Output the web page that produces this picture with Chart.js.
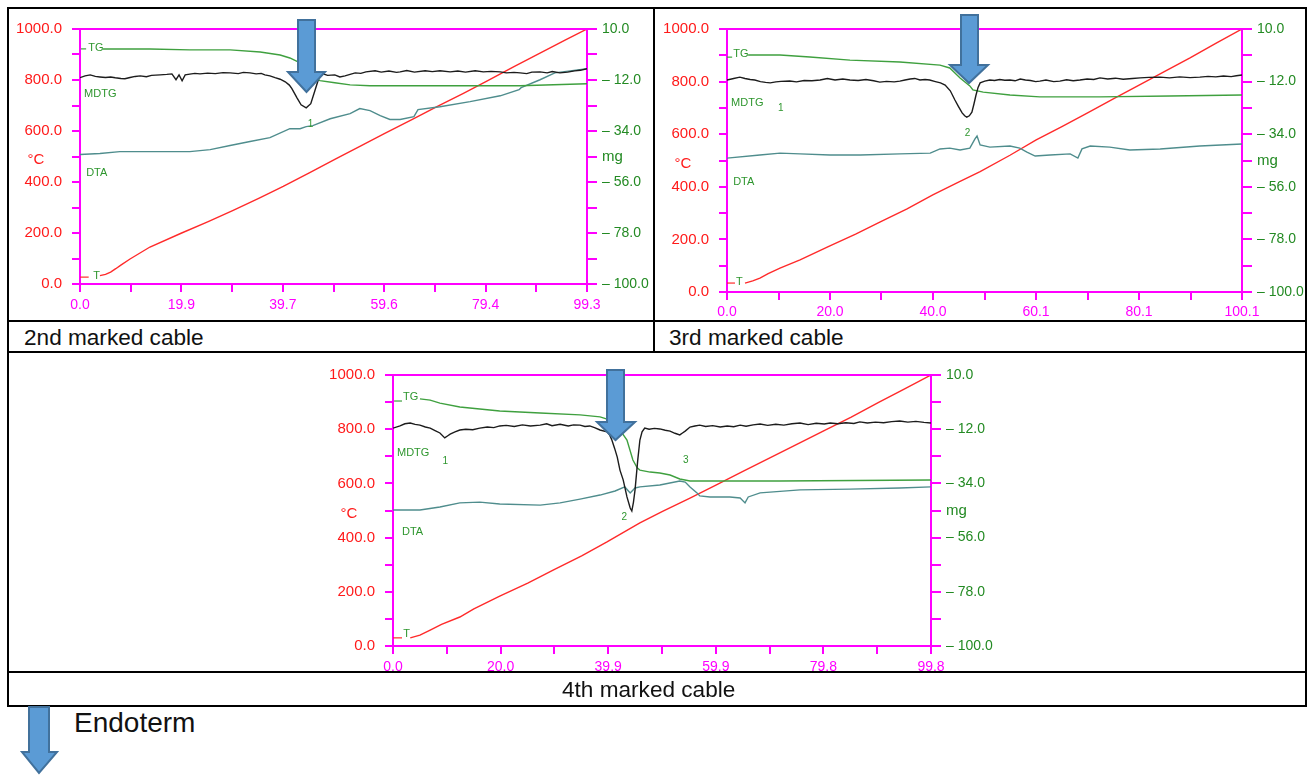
<!DOCTYPE html>
<html>
<head>
<meta charset="utf-8">
<script src="https://cdn.jsdelivr.net/npm/chart.js@4.4.1/dist/chart.umd.min.js"></script>
<style>
  html, body { margin: 0; padding: 0; background: #fff; }
  #page { position: relative; width: 1310px; height: 775px; overflow: hidden;
          font-family: 'Liberation Sans', Arial, Helvetica, sans-serif; }
  canvas { position: absolute; z-index: 1; }
  .rule { position: absolute; background: #000; z-index: 2; }
  .cap { position: absolute; font-size: 22.6px; line-height: 22px; color: #111; white-space: nowrap; z-index: 2; }
  svg { position: absolute; left: 0; top: 0; z-index: 3; }
</style>
</head>
<body>
<div id="page">
  <canvas id="cable2" width="642" height="310" style="left:10px;top:10px"></canvas>
  <canvas id="cable3" width="650" height="310" style="left:655px;top:10px"></canvas>
  <canvas id="cable4" width="720" height="326" style="left:300px;top:354px"></canvas>

  <!-- table rules -->
  <div class="rule" style="left:7px;top:7px;width:1300px;height:2px"></div>
  <div class="rule" style="left:7px;top:7px;width:2px;height:700px"></div>
  <div class="rule" style="left:1305px;top:7px;width:2px;height:700px"></div>
  <div class="rule" style="left:7px;top:705px;width:1300px;height:2px"></div>
  <div class="rule" style="left:653px;top:7px;width:2px;height:346px"></div>
  <div class="rule" style="left:7px;top:320px;width:1300px;height:2px"></div>
  <div class="rule" style="left:7px;top:351px;width:1300px;height:2px"></div>
  <div class="rule" style="left:7px;top:671px;width:1300px;height:2px"></div>

  <div class="cap" style="left:24px;top:327px">2nd marked cable</div>
  <div class="cap" style="left:669px;top:327px">3rd marked cable</div>
  <div class="cap" style="left:562px;top:679px">4th marked cable</div>
  <div class="cap" style="left:74px;top:709px;font-size:28px;line-height:28px">Endoterm</div>

  <svg width="1310" height="775">
    <g fill="#5b9bd5" stroke="#41719c" stroke-width="2" stroke-linejoin="miter">
      <path d="M298,20 L315,20 L315,72 L325,72 L306.5,92 L288,72 L298,72 Z"/>
      <path d="M961,15 L978,15 L978,65 L988,65 L969,83 L950,65 L961,65 Z"/>
      <path d="M607,370 L624,370 L624,422 L635,422 L615.5,440 L597,422 L607,422 Z"/>
      <path d="M29,707 L49,707 L49,752 L57,752 L39,773 L22,752 L29,752 Z"/>
    </g>
  </svg>
</div>

<script>
// ---------- shared tick labels ----------
const tempMin = 0, tempMax = 1000;
const massTicks = [-100, -89, -78, -67, -56, -45, -34, -23, -12, -1, 10];
const massTickLabels = ['\u2013 100.0', '', '\u2013 78.0', '', '\u2013 56.0', 'mg', '\u2013 34.0', '', '\u2013 12.0', '', '10.0'];

// ---------- 2nd marked cable ----------
const cable2TimeMax = 99.3;
const cable2TimeLabels = ['0.0', '19.9', '39.7', '59.6', '79.4', '99.3'];
const cable2TempTime = [3.9, 5, 6, 7, 8, 9.8, 13.7, 19.8, 25, 30, 35, 39.8, 45, 50, 55, 59.6, 65, 70, 75, 79.4, 85, 90, 95, 99.3];
const cable2Temp     = [33, 38, 47, 60, 74, 98, 145, 199, 244, 289, 336, 383, 437, 490, 542, 590, 645, 697, 747, 793, 852, 904, 956, 1000];
const cable2TgTime = [4.5, 13.7, 21.5, 29.4, 35.3, 39.2, 41.1, 42.7, 44.1, 45.4, 47.0, 49.9, 52.9, 56.8, 72.5, 86.2, 99.3];
const cable2Tg     = [1.4, 1.4, 1.0, 1.0, 0.1, -1.2, -2.5, -4.2, -6.8, -10.2, -12.3, -13.2, -14.1, -14.5, -14.5, -14.5, -13.6];
const cable2MdtgTime = [0, 1, 2, 3, 3.9, 5, 6, 6.9, 8, 8.8, 9.8, 10.8, 11.8, 13, 14, 15.7, 17, 18, 18.8, 19.4, 20, 20.6, 21.5, 22.5, 23.5, 25, 26.5, 28, 29.4, 31, 32, 33.3, 34.5, 35.5, 36.2, 37.2, 38.2, 39.2, 40.2, 41, 41.5, 42.5, 43.3, 44.3, 45.2, 46, 46.8, 47.6, 48.5, 49.9, 50.9, 51.9, 52.9, 53.9, 55, 56, 57.8, 59, 60.5, 62, 62.7, 64, 65.5, 67.6, 69, 70.5, 72.5, 74, 75.5, 77.4, 79, 80.5, 82.3, 83.5, 85, 86.2, 87.5, 88.5, 90.1, 91.5, 92.5, 94, 95.5, 96.9, 98, 99.3];
const cable2Mdtg     = [809, 816, 820, 814, 812, 810, 812, 809, 806, 805, 810, 814, 816, 813, 818, 820, 822, 824, 801, 820, 797, 820, 823, 826, 824, 827, 825, 829, 828, 825, 830, 828, 824, 826, 820, 816, 809, 803, 793, 780, 766, 730, 703, 691, 707, 758, 809, 824, 818, 820, 812, 816, 822, 828, 826, 832, 836, 831, 835, 830, 832, 837, 831, 836, 833, 836, 832, 835, 831, 836, 832, 834, 832, 828, 830, 828, 825, 831, 832, 828, 833, 828, 831, 836, 838, 844];
const cable2DtaTime = [0, 3.9, 7.8, 15.7, 21.5, 25.5, 29.4, 33.3, 37.2, 41.1, 43.1, 44.3, 45.6, 49.0, 52.9, 54.8, 56.8, 58.8, 60.7, 62.7, 65.4, 66.2, 70.5, 76.4, 82.3, 86.0, 86.4, 90.1, 93.0, 96.0, 99.3];
const cable2Dta     = [508, 512, 519, 519, 519, 527, 543, 559, 574, 609, 609, 617, 621, 648, 668, 688, 680, 660, 645, 645, 656, 684, 695, 715, 738, 762, 770, 801, 828, 836, 844];

// ---------- 3rd marked cable ----------
const cable3TimeMax = 100.1;
const cable3TimeLabels = ['0.0', '20.0', '40.0', '60.1', '80.1', '100.1'];
const cable3TempTime = [3.5, 5, 6.4, 8, 10.3, 14.2, 20, 25, 29.7, 35, 40, 45, 49.2, 55, 60.1, 65, 70, 75, 80.1, 85, 90, 95, 100.1];
const cable3Temp     = [34, 42, 53, 70, 91, 122, 175, 220, 266, 316, 369, 418, 458, 520, 578, 628, 680, 733, 787, 838, 890, 945, 1000];
const cable3TgTime = [4.1, 10.3, 16.1, 23.9, 33.6, 41.4, 43.3, 45.3, 47.2, 47.8, 49.8, 55.0, 60.8, 72.5, 86.1, 100.1];
const cable3Tg     = [-0.9, -0.9, -1.7, -3.0, -3.8, -5.1, -6.3, -10.5, -13.8, -15.5, -16.4, -17.6, -18.4, -18.4, -18.0, -17.6];
const cable3MdtgTime = [0, 1.3, 2.5, 3.5, 4.5, 5.4, 6.5, 7.5, 8.4, 9.5, 10.5, 12.2, 13.5, 15, 16.5, 18.1, 19.5, 21, 22.5, 23.9, 25.5, 27, 28.5, 29.7, 31, 32.5, 33.6, 34.6, 35.6, 36.5, 37.5, 38.5, 39.4, 40.5, 41.5, 42.4, 43.4, 44.3, 45, 45.7, 46.2, 46.6, 47.1, 47.6, 48.0, 48.4, 48.8, 49.2, 50.1, 51.1, 52, 53, 54, 55, 56, 57, 58, 59, 60, 60.8, 62, 63.5, 64.7, 66, 67.3, 68.6, 70, 71.3, 72.5, 74, 75.5, 77, 78.8, 80.3, 82, 84.2, 86, 88, 90, 91.9, 93.5, 95, 96.5, 98, 99, 100.1];
const cable3Mdtg     = [806, 812, 817, 812, 808, 806, 800, 797, 795, 799, 801, 802, 799, 804, 803, 806, 812, 806, 810, 806, 804, 808, 803, 798, 801, 799, 802, 806, 810, 812, 806, 808, 806, 800, 795, 787, 765, 730, 705, 681, 670, 665, 670, 684, 715, 749, 778, 795, 802, 806, 804, 808, 805, 806, 803, 810, 806, 804, 800, 802, 806, 800, 802, 807, 803, 806, 810, 808, 814, 810, 813, 809, 812, 814, 816, 817, 814, 818, 815, 817, 820, 818, 821, 819, 822, 825];
const cable3DtaTime = [0, 6.4, 10.3, 14.2, 20.0, 25.9, 33.6, 39.5, 41.4, 43.3, 45.3, 47.2, 48.2, 48.6, 49.2, 51.1, 55.0, 56.9, 58.3, 59.9, 62.8, 66.7, 68.2, 69.0, 70.6, 74.4, 78.3, 84.2, 91.9, 100.1];
const cable3Dta     = [509, 521, 528, 525, 521, 521, 525, 528, 544, 547, 540, 547, 582, 593, 559, 551, 555, 547, 532, 517, 521, 525, 509, 544, 555, 551, 540, 544, 555, 563];

// ---------- 4th marked cable ----------
const cable4TimeMax = 99.8;
const cable4TimeLabels = ['0.0', '20.0', '39.9', '59.9', '79.8', '99.8'];
const cable4TempTime = [3.2, 5, 6.9, 9, 12.4, 15, 19.8, 25, 29.7, 35, 39.7, 45.8, 50, 55, 59.9, 65, 70, 75, 79.8, 85, 90, 95, 99.8];
const cable4Temp     = [30, 40, 59, 80, 107, 137, 184, 232, 280, 333, 384, 454, 497, 545, 594, 645, 695, 745, 793, 845, 898, 950, 1000];
const cable4TgTime = [5.0, 6.9, 8.7, 12.4, 16.1, 19.8, 27.3, 34.7, 38.4, 40.3, 42.1, 43.4, 44.5, 45.3, 45.8, 47.7, 49.5, 51.4, 53.2, 55.1, 58.8, 71.8, 99.8];
const cable4Tg     = [0.3, -0.2, -1.4, -3.0, -3.8, -4.6, -5.4, -6.2, -7.0, -8.3, -12.3, -16.4, -24.5, -27.7, -28.6, -29.4, -29.8, -30.6, -32.2, -33.0, -33.0, -33.0, -32.6];
const cable4MdtgTime = [0, 1.3, 2.2, 3.2, 4.1, 5.0, 6, 6.9, 7.8, 8.7, 9.6, 10.1, 10.6, 11.5, 12.4, 13.5, 14.8, 16.1, 17.5, 18.7, 19.8, 21, 22.5, 24, 25.5, 27.3, 28.5, 29.5, 31, 32.5, 33.5, 34.7, 35.6, 36.5, 37.5, 38.4, 39.7, 40.2, 40.6, 41.1, 41.6, 42.1, 42.7, 43.4, 44.0, 44.3, 44.6, 44.9, 45.4, 45.8, 46.2, 46.7, 47.5, 48.5, 49.5, 50.5, 51.4, 52.3, 53.2, 53.7, 54.2, 55.1, 56, 56.9, 58, 59.3, 60.7, 62, 63.2, 64.4, 65.5, 66.8, 68.1, 69.5, 71, 72.5, 74, 75.5, 77, 78.5, 80, 81.1, 82.5, 84, 85.5, 86.6, 88, 89.5, 91, 92.5, 94, 95.5, 97, 98.5, 99.8];
const cable4Mdtg     = [804, 812, 820, 823, 818, 815, 808, 804, 795, 786, 768, 775, 782, 790, 797, 800, 798, 804, 808, 806, 812, 814, 810, 816, 812, 815, 820, 813, 818, 812, 816, 815, 810, 812, 805, 797, 790, 778, 760, 730, 697, 649, 613, 550, 509, 498, 530, 576, 686, 760, 790, 804, 800, 803, 801, 796, 793, 785, 779, 786, 793, 808, 812, 815, 810, 813, 808, 812, 809, 815, 811, 816, 819, 814, 818, 815, 820, 823, 817, 822, 819, 823, 820, 824, 821, 827, 823, 826, 824, 828, 830, 826, 829, 825, 823];
const cable4DtaTime = [0, 5.0, 8.7, 12.4, 16.1, 19.8, 27.3, 31.0, 34.7, 38.4, 41.2, 43.0, 44.0, 44.9, 45.8, 49.5, 53.2, 54.2, 55.1, 56.4, 56.9, 58.8, 62.5, 64.4, 65.3, 65.9, 68.1, 75.5, 84.8, 94.0, 99.8];
const cable4Dta     = [502, 502, 513, 528, 531, 524, 520, 528, 542, 557, 572, 587, 565, 583, 587, 594, 609, 605, 587, 565, 554, 550, 550, 546, 528, 550, 565, 576, 579, 583, 587];

// ---------- styling ----------
const FONT = "'Liberation Sans', Arial, Helvetica, sans-serif";
const MAGENTA = '#ff00ff';
const AXIS_RED = '#ff1a1a';
const AXIS_GREEN = '#238a23';
const NOTE_GREEN = '#2e962e';
const TG_COLOR = '#3fa03f';
const MDTG_COLOR = '#1c1c1c';
const DTA_COLOR = '#4f8d8d';
const T_COLOR = '#ff2a2a';

Chart.defaults.font.family = FONT;

const pts = (xs, ys) => xs.map((x, i) => ({ x, y: ys[i] }));

// draws the frame top edge, the °C unit and the in-plot curve names
const annotate = {
  id: 'annotate',
  afterDraw(chart, args, o) {
    const { ctx, chartArea: a, scales } = chart;
    const sx = scales.x, sy = scales.y;
    ctx.save();
    ctx.strokeStyle = MAGENTA;
    ctx.lineWidth = 2;
    ctx.beginPath();
    ctx.moveTo(a.left, a.top);
    ctx.lineTo(a.right, a.top);
    ctx.stroke();

    ctx.fillStyle = AXIS_RED;
    ctx.font = '15px ' + FONT;
    ctx.textAlign = 'center';
    ctx.textBaseline = 'middle';
    ctx.fillText('\u00B0C', a.left - 44, sy.getPixelForValue(500) + 3);

    ctx.textAlign = 'left';
    for (const n of o.notes) {
      if (n.lead) {
        const ly = sy.getPixelForValue(n.lead.v);
        ctx.strokeStyle = n.lead.color;
        ctx.lineWidth = 1.2;
        ctx.beginPath();
        ctx.moveTo(sx.getPixelForValue(n.lead.from), ly);
        ctx.lineTo(sx.getPixelForValue(n.lead.to), ly);
        ctx.stroke();
      }
      ctx.fillStyle = NOTE_GREEN;
      ctx.font = (n.size || 11) + 'px ' + FONT;
      ctx.fillText(n.text, sx.getPixelForValue(n.t), sy.getPixelForValue(n.v));
    }
    ctx.restore();
  }
};

function drawCable(id, c) {
  const xTicks = [];
  for (let i = 0; i <= 10; i++) xTicks.push(c.timeMax * i / 10);
  const tickGrid = (len) => ({ drawOnChartArea: false, drawTicks: true, tickLength: len, color: MAGENTA, lineWidth: 2 });
  const line = (data, color, axis) => ({
    data, borderColor: color, borderWidth: 1.4, pointRadius: 0, tension: 0, yAxisID: axis, fill: false
  });
  new Chart(document.getElementById(id), {
    type: 'line',
    data: {
      datasets: [
        line(pts(c.mdtgTime, c.mdtg), MDTG_COLOR, 'y'),
        line(pts(c.tgTime, c.tg), TG_COLOR, 'yMass'),
        line(pts(c.dtaTime, c.dta), DTA_COLOR, 'y'),
        line(pts(c.tempTime, c.temp), T_COLOR, 'y')
      ]
    },
    options: {
      responsive: false,
      animation: false,
      devicePixelRatio: 1,
      layout: { padding: { top: c.padTop, left: 0, right: 0, bottom: 0 } },
      plugins: { legend: { display: false }, tooltip: { enabled: false }, annotate: { notes: c.notes } },
      scales: {
        x: {
          type: 'linear', min: 0, max: c.timeMax,
          afterBuildTicks: s => { s.ticks = xTicks.map(value => ({ value })); },
          afterFit: s => { s.height = c.xHeight; },
          ticks: {
            autoSkip: false, maxRotation: 0, padding: c.xPad, color: MAGENTA, font: { size: 14 },
            callback: (v, i) => (i % 2 === 0 ? c.timeLabels[i / 2] : '')
          },
          grid: tickGrid(8),
          border: { display: true, color: MAGENTA, width: 2 }
        },
        y: {
          position: 'left', min: tempMin, max: tempMax,
          afterFit: s => { s.width = c.leftWidth; },
          ticks: {
            stepSize: 100, autoSkip: false, padding: 10, color: AXIS_RED, font: { size: 15 },
            callback: v => (v % 200 === 0 ? v.toFixed(1) : '')
          },
          grid: tickGrid(8),
          border: { display: true, color: MAGENTA, width: 2 }
        },
        yMass: {
          position: 'right', min: -100, max: 10,
          afterBuildTicks: s => { s.ticks = massTicks.map(value => ({ value })); },
          afterFit: s => { s.width = c.rightWidth; },
          ticks: {
            autoSkip: false, padding: 5, color: AXIS_GREEN,
            font: ctx => ({ size: ctx.tick && ctx.tick.value === -45 ? 15 : 14 }),
            callback: (v, i) => massTickLabels[i]
          },
          grid: tickGrid(10),
          border: { display: true, color: MAGENTA, width: 2 }
        }
      }
    },
    plugins: [annotate]
  });
}

drawCable('cable2', {
  timeMax: cable2TimeMax, timeLabels: cable2TimeLabels,
  tempTime: cable2TempTime, temp: cable2Temp, tgTime: cable2TgTime, tg: cable2Tg,
  mdtgTime: cable2MdtgTime, mdtg: cable2Mdtg, dtaTime: cable2DtaTime, dta: cable2Dta,
  padTop: 18, leftWidth: 70, rightWidth: 65, xHeight: 36, xPad: 5,
  notes: [
    { text: 'TG', t: 1.6, v: 925, lead: { from: 0.2, to: 1.2, v: 922, color: TG_COLOR } },
    { text: 'MDTG', t: 0.8, v: 746 },
    { text: 'DTA', t: 1.2, v: 437 },
    { text: 'T', t: 2.6, v: 30, lead: { from: 0, to: 1.7, v: 27, color: T_COLOR } },
    { text: '1', t: 44.6, v: 625, size: 10 }
  ]
});

drawCable('cable3', {
  timeMax: cable3TimeMax, timeLabels: cable3TimeLabels,
  tempTime: cable3TempTime, temp: cable3Temp, tgTime: cable3TgTime, tg: cable3Tg,
  mdtgTime: cable3MdtgTime, mdtg: cable3Mdtg, dtaTime: cable3DtaTime, dta: cable3Dta,
  padTop: 19, leftWidth: 72, rightWidth: 63, xHeight: 28, xPad: 4,
  notes: [
    { text: 'TG', t: 1.2, v: 905, lead: { from: 0, to: 1.0, v: 893, color: TG_COLOR } },
    { text: 'MDTG', t: 0.8, v: 719 },
    { text: '1', t: 9.9, v: 700, size: 10 },
    { text: '2', t: 46.2, v: 605, size: 10 },
    { text: 'DTA', t: 1.2, v: 418 },
    { text: 'T', t: 1.75, v: 38, lead: { from: 0, to: 1.55, v: 34, color: T_COLOR } }
  ]
});

drawCable('cable4', {
  timeMax: cable4TimeMax, timeLabels: cable4TimeLabels,
  tempTime: cable4TempTime, temp: cable4Temp, tgTime: cable4TgTime, tg: cable4Tg,
  mdtgTime: cable4MdtgTime, mdtg: cable4Mdtg, dtaTime: cable4DtaTime, dta: cable4Dta,
  padTop: 21, leftWidth: 93, rightWidth: 89, xHeight: 34, xPad: 5,
  notes: [
    { text: 'TG', t: 1.86, v: 919, lead: { from: 0.2, to: 1.67, v: 904, color: TG_COLOR } },
    { text: 'MDTG', t: 0.74, v: 712 },
    { text: '1', t: 9.2, v: 683, size: 10 },
    { text: '2', t: 42.4, v: 476, size: 10 },
    { text: '3', t: 53.8, v: 686, size: 10 },
    { text: 'DTA', t: 1.67, v: 421 },
    { text: 'T', t: 1.9, v: 45, lead: { from: 0, to: 1.67, v: 30, color: T_COLOR } }
  ]
});
</script>
</body>
</html>
